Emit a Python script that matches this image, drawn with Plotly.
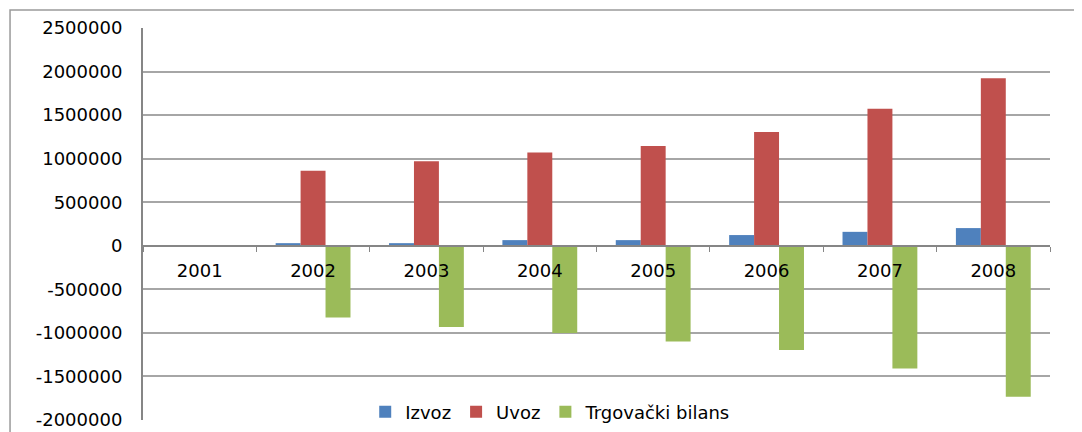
import plotly.graph_objects as go

years = ["2001", "2002", "2003", "2004", "2005", "2006", "2007", "2008"]
izvoz = [0, 30000, 30000, 65000, 65000, 123000, 160000, 203000]
uvoz = [0, 860000, 970000, 1070000, 1145000, 1306000, 1573000, 1923000]
bilans = [0, -822000, -933000, -1002000, -1100000, -1197000, -1408000, -1733000]
y_ticks = [-2000000, -1500000, -1000000, -500000, 0, 500000, 1000000, 1500000, 2000000, 2500000]

series = [("Izvoz", izvoz, "#4F81BD"), ("Uvoz", uvoz, "#C0504D"), ("Trgovački bilans", bilans, "#9BBB59")]

fig = go.Figure()
for name, vals, color in series:
    fig.add_trace(go.Bar(x=years, y=vals, name=name, marker=dict(color=color, line=dict(width=0))))

ymin, ymax = -2000000, 2500000
zero_pos = (0 - ymin) / (ymax - ymin)

# page body has an 8px margin, so the figure is a bit smaller than the window
fig.update_layout(
    width=1074, height=424,
    margin=dict(l=135, r=32, t=20, b=12, autoexpand=False),
    paper_bgcolor="white", plot_bgcolor="white",
    font=dict(family="DejaVu Sans, Arial, sans-serif", size=18, color="black"),
    barmode="group", bargap=0.34, bargroupgap=0,
    showlegend=True,
    legend=dict(orientation="h", x=0.245, y=0.02, xanchor="left", yanchor="middle",
                bgcolor="rgba(255,255,255,0)", font=dict(size=18), itemwidth=30,
                tracegroupgap=0),
    xaxis=dict(anchor="free", position=zero_pos, showline=True, linecolor="#868686", linewidth=2,
               ticks="outside", tickson="boundaries", ticklen=5, tickcolor="#868686",
               showgrid=False, automargin=False, ticklabelstandoff=9),
    yaxis=dict(range=[ymin, ymax], tickvals=y_ticks, ticktext=[str(v) for v in y_ticks],
               showline=True, linecolor="#868686", linewidth=2, showgrid=True,
               gridcolor="#A6A6A6", gridwidth=1.5, zeroline=False, ticks="",
               automargin=False, ticklabelstandoff=15),
)

fig.add_shape(type="rect", xref="paper", yref="paper", x0=-0.1466, x1=1.3, y0=-0.3, y1=1.046,
              line=dict(color="#9A9A9A", width=1.5), fillcolor="rgba(0,0,0,0)", layer="above")

fig.write_html("out.html")
